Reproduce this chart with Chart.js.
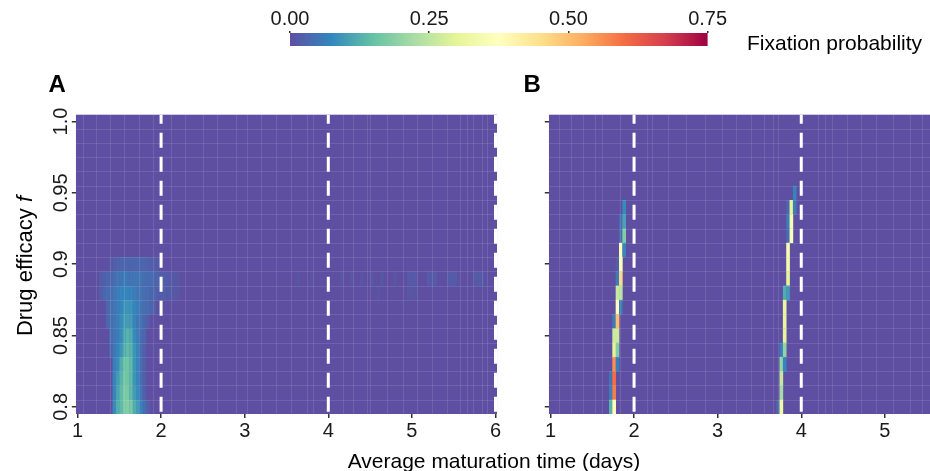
<!DOCTYPE html>
<html><head><meta charset="utf-8">
<script src="https://cdn.jsdelivr.net/npm/chart.js@4.4.1/dist/chart.umd.min.js"></script>
<style>
html,body{margin:0;padding:0;background:#fff;width:930px;height:471px;overflow:hidden;font-family:"Liberation Sans",Arial,sans-serif;}
canvas{position:absolute;}
.lbl{position:absolute;white-space:nowrap;color:#000;font-family:"Liberation Sans",Arial,sans-serif;}
</style></head><body>
<canvas id="pa" style="left:0;top:0" width="525" height="471"></canvas>
<canvas id="pb" style="left:525px;top:0" width="405" height="471"></canvas>
<canvas id="cbar" style="left:250px;top:0" width="680" height="60"></canvas>
<div class="lbl" style="left:48.5px;top:71.7px;font-size:24px;line-height:24px;font-weight:bold;">A</div>
<div class="lbl" style="left:523.5px;top:71.7px;font-size:24px;line-height:24px;font-weight:bold;">B</div>
<div class="lbl" style="left:747px;top:32.2px;font-size:21px;line-height:21px;">Fixation probability</div>
<div class="lbl" style="left:294px;top:450.2px;width:400px;text-align:center;font-size:21px;line-height:21px;">Average maturation time (days)</div>
<div class="lbl" style="left:-74.9px;top:254.5px;width:200px;text-align:center;font-size:22px;line-height:22px;transform:rotate(-90deg);">Drug efficacy <i>f</i></div>
<script>
// ---------- data ----------
const rowsY = [0.80,0.81,0.82,0.83,0.84,0.85,0.86,0.87,0.88,0.89,0.90,0.91,0.92,0.93,0.94,0.95,0.96,0.97,0.98,0.99,1.00];
const cellW = 0.04;           // width of one maturation-time bin (days)
const cellH = 0.01;           // height of one efficacy bin
const xTicksA = [1,2,3,4,5,6];
const xTicksB = [1,2,3,4,5];
const yTicks = [0.8,0.85,0.9,0.95,1.0];
const yTickLabels = ['0.8','0.85','0.9','0.95','1.0'];
const cbTicks = [0,0.25,0.5,0.75];
const cbTickLabels = ['0.00','0.25','0.50','0.75'];
const thresholdsA = [2,4,6];
const thresholdsB = [2,4];

// Panel A: main patch, one row per efficacy value
const aRowY = [0.80,0.81,0.82,0.83,0.84,0.85,0.86,0.87,0.88,0.89,0.90];
const aRowStartX = [1.44,1.44,1.44,1.44,1.40,1.40,1.36,1.36,1.28,1.28,1.40];
const aRowVals = [
  [0.08,0.12,0.14,0.17,0.18,0.17,0.12,0.10,0.07,0.04,0.02],
  [0.07,0.11,0.14,0.17,0.17,0.14,0.10,0.08,0.05,0.02],
  [0.07,0.10,0.13,0.16,0.16,0.14,0.09,0.07,0.04,0.02],
  [0.06,0.08,0.12,0.15,0.16,0.14,0.09,0.07,0.04,0.02],
  [0.03,0.05,0.07,0.09,0.12,0.14,0.13,0.09,0.07,0.04,0.02],
  [0.04,0.05,0.06,0.08,0.11,0.13,0.12,0.08,0.06,0.04,0.03],
  [0.03,0.04,0.05,0.06,0.08,0.10,0.10,0.10,0.07,0.05,0.05,0.03,0.02],
  [0.03,0.04,0.05,0.06,0.07,0.09,0.09,0.09,0.07,0.06,0.05,0.04,0.04,0.03,0.02],
  [0.02,0.03,0.04,0.04,0.05,0.06,0.07,0.07,0.07,0.07,0.06,0.05,0.05,0.04,0.04,0.03,0.03,0.02,0.02,0.02,0.015,0.015,0.01,0.01],
  [0.02,0.02,0.03,0.03,0.04,0.05,0.05,0.06,0.05,0.05,0.05,0.05,0.05,0.04,0.04,0.04,0.03,0.03,0.02,0.02,0.015,0.015,0.01,0.01],
  [0.015,0.02,0.025,0.03,0.03,0.03,0.03,0.03,0.03,0.03,0.03,0.025,0.02,0.02,0.015]
];
// Panel A: faint band near f = 0.89 at long maturation times
const aBandY = [0.89,0.89,0.89,0.89,0.89,0.89,0.89,0.89,0.89,0.89,0.89,0.89,0.89,0.89,0.89,0.89,0.89,0.89,0.89,0.89,0.88,0.88,0.88,0.88];
const aBandX = [3.64,3.80,4.16,4.28,4.40,4.52,4.64,4.80,4.96,5.00,5.04,5.20,5.24,5.28,5.44,5.48,5.52,5.76,5.80,5.84,4.60,4.96,5.00,5.04];
const aBandV = [0.006,0.007,0.009,0.010,0.009,0.011,0.010,0.009,0.014,0.016,0.014,0.016,0.017,0.014,0.016,0.017,0.014,0.017,0.016,0.014,0.007,0.009,0.009,0.007];

// Panel B: two narrow ridges
const bCellX = [1.88, 1.84,1.88, 1.84,1.88, 1.84,1.88, 1.80,1.84, 1.80,1.84, 1.80,1.84, 1.80,1.84, 1.76,1.80, 1.76,1.80, 1.76,1.80, 1.76,1.80, 1.72,1.76, 1.72,1.76, 1.72,1.76,
                3.92, 3.84,3.88,3.92, 3.84,3.88, 3.84,3.88, 3.84, 3.84, 3.84, 3.80,3.84, 3.80, 3.80, 3.80, 3.76,3.80, 3.76,3.80, 3.76, 3.76, 3.72,3.76];
const bCellY = [0.94, 0.93,0.93, 0.92,0.92, 0.91,0.91, 0.90,0.90, 0.89,0.89, 0.88,0.88, 0.87,0.87, 0.86,0.86, 0.85,0.85, 0.84,0.84, 0.83,0.83, 0.82,0.82, 0.81,0.81, 0.80,0.80,
                0.95, 0.94,0.94,0.94, 0.93,0.93, 0.92,0.92, 0.91, 0.90, 0.89, 0.88,0.88, 0.87, 0.86, 0.85, 0.84,0.84, 0.83,0.83, 0.82, 0.81, 0.80,0.80];
const bCellV = [0.08, 0.04,0.11, 0.04,0.18, 0.37,0.07, 0.02,0.36, 0.06,0.46, 0.26,0.24, 0.38,0.06, 0.06,0.50, 0.27,0.27, 0.30,0.18, 0.56,0.06, 0.05,0.60, 0.06,0.58, 0.13,0.38,
                0.07, 0.03,0.30,0.06, 0.06,0.35, 0.04,0.36, 0.35, 0.34, 0.30, 0.12,0.10, 0.31, 0.31, 0.30, 0.06,0.20, 0.20,0.07, 0.26, 0.22, 0.03,0.33];

// tile seams visible in the raster (days)
const seamsA = [1.07,1.22,1.39,1.56,1.74,1.90,2.12,2.29,2.50,2.67,2.90,3.03,3.20,3.38,3.55,3.75,3.82,4.17,4.30,4.46,4.50,4.70,4.89,5.06,5.24,5.42,5.57,5.66,5.73,5.84,5.90];
const seamsB = [1.10,1.25,1.39,1.53,1.62,1.83,2.15,2.21,2.40,2.62,2.85,3.05,3.22,3.40,3.55,3.66,3.72,4.20,4.28,4.37,4.55,4.72,4.90,5.10,5.30,5.45];

// ---------- styling helpers ----------
const palette = ['#5E4FA2','#3288BD','#66C2A5','#ABDDA4','#E6F598','#FFFFBF','#FEE08B','#FDAE61','#F46D43','#D53E4F','#9E0142'];
const colorMax = 0.75;
function hexRgb(h){return [parseInt(h.slice(1,3),16),parseInt(h.slice(3,5),16),parseInt(h.slice(5,7),16)];}
function colorFor(v){
  const t = Math.max(0,Math.min(1,v/colorMax))*(palette.length-1);
  const i = Math.min(Math.floor(t), palette.length-2), f = t-i;
  const a = hexRgb(palette[i]), b = hexRgb(palette[i+1]);
  return 'rgb('+a.map((c,k)=>Math.round(c+(b[k]-c)*f)).join(',')+')';
}
const FONT = "'Liberation Sans', Arial, sans-serif";
Chart.defaults.font.family = FONT;
Chart.defaults.color = '#1a1a1a';

// build cell lists
const cellsA = [];
aRowY.forEach((yv,r)=>aRowVals[r].forEach((v,i)=>cellsA.push({x:+(aRowStartX[r]+i*cellW).toFixed(2), y:yv, v:v})));
aBandX.forEach((xv,i)=>cellsA.push({x:xv, y:aBandY[i], v:aBandV[i]}));
const cellsB = bCellX.map((xv,i)=>({x:xv, y:bCellY[i], v:bCellV[i]}));

const yMin = rowsY[0]-cellH/2, yMax = rowsY[rowsY.length-1]+cellH/2;

const heatPlugin = {
  id:'heat',
  beforeDatasetsDraw(chart){
    const {ctx, chartArea:a, scales:{x,y}} = chart;
    const cfg = chart.$heat;
    ctx.save();
    ctx.beginPath(); ctx.rect(a.left,a.top,a.width,a.height); ctx.clip();
    ctx.fillStyle = palette[0];
    ctx.fillRect(a.left,a.top,a.width,a.height);
    cfg.cells.forEach(c=>{
      const x0=x.getPixelForValue(c.x-cellW/2), x1=x.getPixelForValue(c.x+cellW/2);
      const y0=y.getPixelForValue(c.y+cellH/2), y1=y.getPixelForValue(c.y-cellH/2);
      ctx.fillStyle = colorFor(c.v);
      ctx.fillRect(x0,y0,x1-x0+0.3,y1-y0+0.3);
    });
    ctx.strokeStyle='rgba(255,255,255,0.11)'; ctx.lineWidth=1;
    for(let i=1;i<rowsY.length;i++){
      const py=Math.round(y.getPixelForValue((rowsY[i-1]+rowsY[i])/2))+0.5;
      ctx.beginPath(); ctx.moveTo(a.left,py); ctx.lineTo(a.right,py); ctx.stroke();
    }
    cfg.seams.forEach(s=>{
      const px=Math.round(x.getPixelForValue(s))+0.5;
      ctx.beginPath(); ctx.moveTo(px,a.top); ctx.lineTo(px,a.bottom); ctx.stroke();
    });
    ctx.restore();
  },
  afterDraw(chart){
    const cfg = chart.$heat;
    if(!cfg.yLabels) return;
    const {ctx, scales:{y}} = chart;
    ctx.save();
    ctx.font = '20px '+FONT; ctx.fillStyle='#1a1a1a';
    ctx.textAlign='center'; ctx.textBaseline='alphabetic';
    y.ticks.forEach((t,i)=>{
      const py=y.getPixelForValue(t.value);
      ctx.save(); ctx.translate(67,py); ctx.rotate(-Math.PI/2);
      ctx.fillText(yTickLabels[i],0,0); ctx.restore();
    });
    ctx.restore();
  }
};

function makePanel(id, cells, seams, xMax, xTicks, thresholds, pad, yLabels){
  const datasets = [{type:'scatter', data:cells, pointRadius:0, pointHoverRadius:0}];
  thresholds.forEach(t=>datasets.push({
    type:'scatter', showLine:true, data:[{x:t,y:yMin},{x:t,y:yMax}],
    borderColor:'#ffffff', borderWidth:3, borderDash:[15,9], borderDashOffset:21.7,
    pointRadius:0, pointHoverRadius:0, borderCapStyle:'butt'
  }));
  const ch = new Chart(document.getElementById(id), {
    type:'scatter',
    data:{datasets},
    options:{
      responsive:false, animation:false, devicePixelRatio:1, events:[],
      layout:{padding:pad},
      plugins:{legend:{display:false}, tooltip:{enabled:false}},
      scales:{
        x:{type:'linear', min:0.98, max:xMax,
           afterBuildTicks:s=>{s.ticks = xTicks.map(v=>({value:v}));},
           afterFit:s=>{s.height=40;},
           ticks:{font:{size:20}, color:'#1a1a1a', padding:1, maxRotation:0, autoSkip:false, callback:v=>String(v)},
           grid:{drawOnChartArea:false, drawTicks:true, tickLength:4, color:'#333', lineWidth:1.5},
           border:{display:false}},
        y:{type:'linear', min:yMin, max:yMax,
           afterBuildTicks:s=>{s.ticks = yTicks.map(v=>({value:v}));},
           afterFit:s=>{s.width=6;},
           ticks:{display:false},
           grid:{drawOnChartArea:false, drawTicks:true, tickLength:4, color:'#333', lineWidth:1.5},
           border:{display:false}}
      }
    },
    plugins:[heatPlugin]
  });
  return ch;
}
// attach config before first draw
Chart.register({id:'heatcfg', beforeInit(chart){
  const id = chart.canvas.id;
  if(id==='pa') chart.$heat = {cells:cellsA, seams:seamsA, yLabels:true};
  else if(id==='pb') chart.$heat = {cells:cellsB, seams:seamsB, yLabels:false};
  else chart.$heat = null;
}});

makePanel('pa', cellsA, seamsA, 6.02, xTicksA, thresholdsA, {left:69.8, right:27.8, top:114.4, bottom:17}, true);
makePanel('pb', cellsB, seamsB, 5.54, xTicksB, thresholdsB, {left:17.8, right:0, top:114.4, bottom:17}, false);

// colour bar
new Chart(document.getElementById('cbar'), {
  type:'scatter',
  data:{datasets:[]},
  options:{
    responsive:false, animation:false, devicePixelRatio:1, events:[],
    layout:{padding:{left:40, right:222.4, top:0, bottom:14}},
    plugins:{legend:{display:false}, tooltip:{enabled:false}},
    scales:{
      x:{type:'linear', position:'top', min:0, max:colorMax,
         afterBuildTicks:s=>{s.ticks = cbTicks.map(v=>({value:v}));},
         afterFit:s=>{s.height=33;},
         ticks:{font:{size:20}, color:'#1a1a1a', padding:0, maxRotation:0, autoSkip:false,
                callback:(v,i)=>cbTickLabels[i]},
         grid:{drawOnChartArea:false, drawTicks:true, tickLength:2, color:'#333', lineWidth:1.5},
         border:{display:false}},
      y:{display:false, min:0, max:1}
    }
  },
  plugins:[{id:'grad', beforeDatasetsDraw(chart){
    const {ctx, chartArea:a} = chart;
    const g = ctx.createLinearGradient(a.left,0,a.right,0);
    palette.forEach((c,i)=>g.addColorStop(i/(palette.length-1), c));
    ctx.save(); ctx.fillStyle=g; ctx.fillRect(a.left,a.top,a.width,a.height); ctx.restore();
  }}]
});
</script>
</body></html>
